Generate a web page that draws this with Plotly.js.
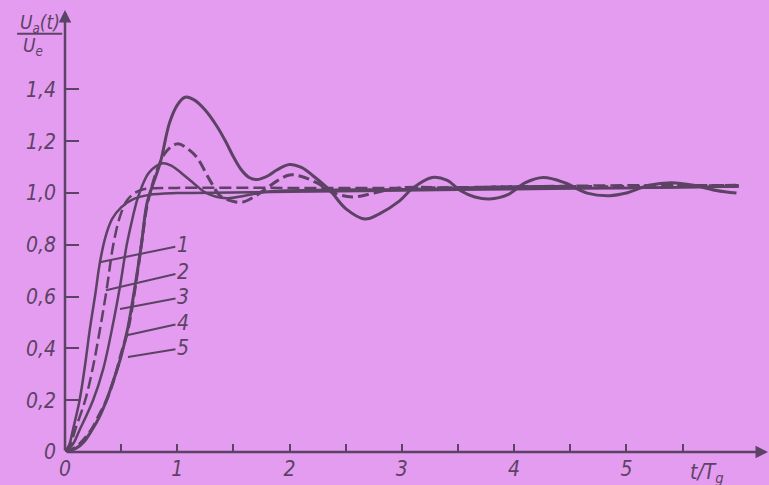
<!DOCTYPE html>
<html>
<head>
<meta charset="utf-8">
<script src="https://cdn.plot.ly/plotly-3.0.1.min.js"></script>
<style>html,body{margin:0;padding:0;background:#e49cf0;}#chart{width:769px;height:485px;}</style>
</head>
<body>
<div id="chart"></div>
<script>
// Curve 1 (solid)
const t1 = [0, 0.04, 0.07, 0.13, 0.18, 0.22, 0.27, 0.31, 0.36, 0.42, 0.5, 0.6, 0.75, 1.0, 1.5, 2, 3, 4, 5, 6];
const v1 = [0, 0.03, 0.085, 0.2, 0.34, 0.47, 0.61, 0.73, 0.83, 0.9, 0.945, 0.975, 0.993, 1.0, 1.002, 1.005, 1.01, 1.015, 1.02, 1.025];
// Curve 2 (dashed)
const t2 = [0, 0.05, 0.09, 0.18, 0.25, 0.31, 0.37, 0.43, 0.49, 0.55, 0.62, 0.7, 1.0, 2, 3, 4, 5, 6];
const v2 = [0, 0.03, 0.085, 0.2, 0.33, 0.47, 0.625, 0.8, 0.91, 0.97, 1.0, 1.015, 1.02, 1.02, 1.02, 1.025, 1.03, 1.03];
// Curve 3 (solid)
const t3 = [0, 0.07, 0.13, 0.25, 0.34, 0.43, 0.49, 0.55, 0.6, 0.64, 0.68, 0.75, 0.87, 0.95, 1.0, 1.14, 1.26, 1.44, 1.6, 1.8, 2.0, 3, 4, 5, 6];
const v3 = [0, 0.03, 0.085, 0.2, 0.32, 0.5, 0.64, 0.8, 0.9, 0.97, 1.02, 1.08, 1.115, 1.105, 1.09, 1.04, 1.0, 0.98, 0.99, 1.005, 1.01, 1.015, 1.02, 1.02, 1.025];
// Curve 4 (dashed)
const t4 = [0, 0.1, 0.17, 0.24, 0.3, 0.37, 0.45, 0.5, 0.56, 0.62, 0.68, 0.73, 0.77, 0.83, 0.9, 1.0, 1.08, 1.17, 1.29, 1.38, 1.48, 1.58, 1.7, 1.8, 1.9, 2.0, 2.1, 2.24, 2.4, 2.56, 2.75, 2.98, 3.5, 4, 5, 6];
const v4 = [0, 0.02, 0.05, 0.09, 0.14, 0.2, 0.3, 0.38, 0.47, 0.62, 0.8, 0.95, 1.02, 1.1, 1.16, 1.19, 1.175, 1.14, 1.05, 0.99, 0.97, 0.965, 0.99, 1.02, 1.05, 1.07, 1.065, 1.04, 1.0, 0.985, 1.0, 1.02, 1.02, 1.025, 1.025, 1.03];
// Curve 5 (solid)
const t5 = [0, 0.1, 0.17, 0.24, 0.3, 0.37, 0.45, 0.5, 0.56, 0.62, 0.68, 0.73, 0.78, 0.85, 0.93, 1.0, 1.07, 1.15, 1.25, 1.35, 1.43, 1.5, 1.57, 1.64, 1.71, 1.8, 1.89, 2.0, 2.1, 2.2, 2.36, 2.5, 2.67, 2.8, 2.98, 3.1, 3.27, 3.4, 3.52, 3.65, 3.78, 3.95, 4.1, 4.26, 4.45, 4.65, 4.85, 5.0, 5.2, 5.4, 5.6, 5.8, 5.98];
const v5 = [0, 0.015, 0.04, 0.085, 0.13, 0.2, 0.3, 0.37, 0.48, 0.63, 0.8, 0.96, 1.03, 1.12, 1.27, 1.34, 1.37, 1.36, 1.32, 1.26, 1.2, 1.14, 1.09, 1.06, 1.052, 1.065, 1.09, 1.11, 1.1, 1.07, 1.01, 0.94, 0.9, 0.92, 0.97, 1.02, 1.06, 1.05, 1.01, 0.985, 0.977, 0.995, 1.04, 1.06, 1.04, 1.0, 0.99, 1.0, 1.03, 1.04, 1.03, 1.01, 1.0];

// Curve labels and where their leader lines touch the curves
const curveLabels = ['1', '2', '3', '4', '5'];
const leaderT = [0.31, 0.365, 0.49, 0.561, 0.561];
const leaderV = [0.733, 0.625, 0.552, 0.452, 0.367];

// Axis ticks
const xTickVals = [0, 0.5, 1, 1.5, 2, 2.5, 3, 3.5, 4, 4.5, 5, 5.5];
const xTickText = ['0', '', '1', '', '2', '', '3', '', '4', '', '5', ''];
const yTickVals = [0, 0.2, 0.4, 0.6, 0.8, 1.0, 1.2, 1.4];
const yTickText = ['0', '0,2', '0,4', '0,6', '0,8', '1,0', '1,2', '1,4'];

const ink = '#5c4264';
const bg = '#e49cf0';
const fontFam = '"Liberation Sans Narrow", "DejaVu Sans Condensed", "Liberation Sans", sans-serif';

const mk = (x, y, dash, w) => ({x: x, y: y, type: 'scatter', mode: 'lines',
  line: {color: ink, width: w, dash: dash, shape: 'spline', smoothing: 1}, hoverinfo: 'skip'});

const traces = [
  mk(t1, v1, 'solid', 2.5),
  mk(t2, v2, '12px,5px', 2.5),
  mk(t3, v3, 'solid', 2.5),
  mk(t4, v4, '11px,5px', 3),
  mk(t5, v5, 'solid', 3)
];

const labelOffX = [83, 77, 63, 55, 55];
const labelOffY = [-17, -18, -12, -12, -9];
const annotations = curveLabels.map((s, i) => ({
  x: leaderT[i], y: leaderV[i], xref: 'x', yref: 'y', text: s,
  showarrow: true, arrowhead: 0, arrowwidth: 2, arrowcolor: ink,
  ax: labelOffX[i], ay: labelOffY[i],
  font: {family: fontFam, size: 21, color: ink, style: 'italic'}
}));

// axis arrows
annotations.push({xref: 'paper', yref: 'paper', x: 1, y: 0, axref: 'paper', ayref: 'paper', ax: 0, ay: 0,
  text: '', showarrow: true, arrowhead: 2, arrowsize: 1, arrowwidth: 2.5, arrowcolor: ink});
annotations.push({xref: 'paper', yref: 'paper', x: 0, y: 1, axref: 'paper', ayref: 'paper', ax: 0, ay: 0,
  text: '', showarrow: true, arrowhead: 2, arrowsize: 1, arrowwidth: 2.5, arrowcolor: ink});
// axis titles
annotations.push({xref: 'paper', yref: 'paper', x: 0.912, y: -0.013, yanchor: 'top', xanchor: 'center', showarrow: false,
  text: 't/T<sub>g</sub>', font: {family: fontFam, size: 21, color: ink, style: 'italic'}});
annotations.push({xref: 'paper', yref: 'paper', x: -0.0355, y: 0.97, xanchor: 'center', yanchor: 'middle', showarrow: false,
  text: 'U<sub>a</sub>(t)', font: {family: fontFam, size: 19, color: ink, style: 'italic'}});
annotations.push({xref: 'paper', yref: 'paper', x: -0.046, y: 0.918, xanchor: 'center', yanchor: 'middle', showarrow: false,
  text: 'U<sub>e</sub>', font: {family: fontFam, size: 19, color: ink, style: 'italic'}});

const layout = {
  width: 769, height: 485,
  paper_bgcolor: bg, plot_bgcolor: bg,
  margin: {l: 65, r: 0, t: 10, b: 33},
  showlegend: false,
  xaxis: {range: [0, 6.27], showgrid: false, zeroline: false, showline: false,
    tickmode: 'array', tickvals: xTickVals, ticktext: xTickText,
    ticks: 'inside', ticklen: 8, tickwidth: 2, tickcolor: ink, ticklabelstandoff: 2,
    tickfont: {family: fontFam, size: 21, color: ink, style: 'italic'}},
  yaxis: {range: [0, 1.707], showgrid: false, zeroline: false, showline: false,
    tickmode: 'array', tickvals: yTickVals, ticktext: yTickText,
    ticks: 'inside', ticklen: 14, tickwidth: 2, tickcolor: ink, ticklabelstandoff: 8,
    tickfont: {family: fontFam, size: 21, color: ink, style: 'italic'}},
  shapes: [{type: 'line', xref: 'paper', yref: 'paper', x0: -0.068, x1: -0.004, y0: 0.946, y1: 0.946,
    line: {color: ink, width: 2}}],
  annotations: annotations
};

Plotly.newPlot('chart', traces, layout, {staticPlot: true, displayModeBar: false});
</script>
</body>
</html>
